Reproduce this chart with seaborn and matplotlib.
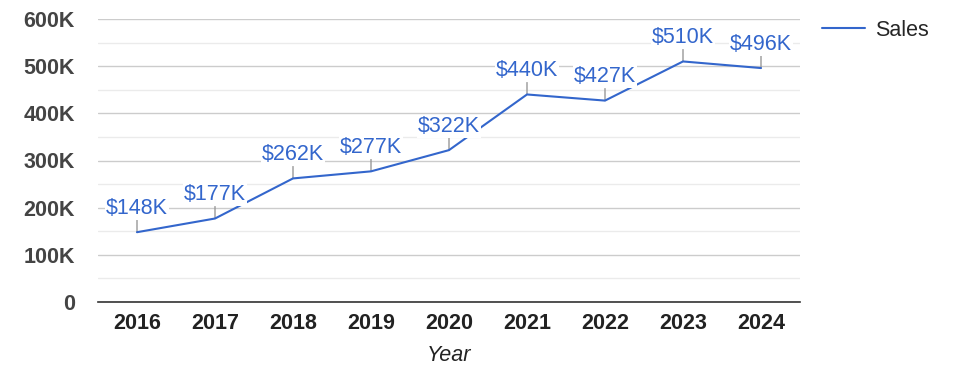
import numpy as np
import pandas as pd
import matplotlib
matplotlib.use('Agg')
import matplotlib.pyplot as plt
import seaborn as sns
from matplotlib.ticker import MultipleLocator, FuncFormatter

# 数据
years = ['2016', '2017', '2018', '2019', '2020', '2021', '2022', '2023', '2024']
sales = [148000, 177000, 262000, 277000, 322000, 440000, 427000, 510000, 496000]
series_name = 'Sales'

sns.set_style("white")
plt.rcParams['font.family'] = ['Liberation Sans', 'DejaVu Sans']

df = pd.DataFrame({'Year': years, 'Sales': sales})

LINE = '#3366cc'
FS = 15.5

fig = plt.figure(figsize=(9.75, 3.78), dpi=100)
ax = fig.add_axes([98 / 975, 1 - 302 / 378, 702 / 975, 283 / 378])

sns.lineplot(data=df, x='Year', y='Sales', ax=ax, color=LINE, linewidth=1.5,
             label=series_name, sort=False, zorder=3)

ax.set_xlim(-0.5, len(years) - 0.5)
ax.set_ylim(0, 600000)

# 网格线
ax.yaxis.set_major_locator(MultipleLocator(100000))
ax.yaxis.set_minor_locator(MultipleLocator(50000))
ax.grid(axis='y', which='major', color='#cccccc', linewidth=1)
ax.grid(axis='y', which='minor', color='#ebebeb', linewidth=1)
ax.grid(axis='x', visible=False)
ax.set_axisbelow(True)
ax.yaxis.set_major_formatter(FuncFormatter(lambda v, p: '0' if v == 0 else f'{int(v / 1000)}K'))

for s in ['top', 'right', 'left']:
    ax.spines[s].set_visible(False)
ax.spines['bottom'].set_color('#333333')
ax.spines['bottom'].set_linewidth(1.2)
ax.tick_params(axis='both', which='both', length=0)
ax.tick_params(axis='y', pad=16.5, labelsize=FS, labelcolor='#444444')
ax.tick_params(axis='x', pad=8, labelsize=FS, labelcolor='#222222')
for lbl in ax.get_yticklabels() + ax.get_xticklabels():
    lbl.set_fontweight('bold')

ax.set_ylabel('')
ax.set_xlabel('Year', fontsize=FS, fontstyle='italic', color='#222222', labelpad=8)

# 数据标签
for i, v in enumerate(sales):
    ax.annotate('', xy=(i, v), xytext=(0, 12), textcoords='offset pixels',
                arrowprops=dict(arrowstyle='-', color='#999999', lw=1,
                                shrinkA=0, shrinkB=0), zorder=2)
    ax.annotate(f'${v // 1000}K', xy=(i, v), xytext=(0, 24), textcoords='offset pixels',
                ha='center', va='center', fontsize=FS, color=LINE, zorder=4,
                bbox=dict(boxstyle='square,pad=0.05', facecolor='white', edgecolor='none'))

ax.legend(loc='center left', bbox_to_anchor=(822 / 975, 1 - 30 / 378),
          bbox_transform=fig.transFigure, frameon=False, fontsize=FS,
          handlelength=2.0, handletextpad=0.45, borderpad=0, borderaxespad=0)

plt.savefig('out.png', dpi=100)
plt.close()
